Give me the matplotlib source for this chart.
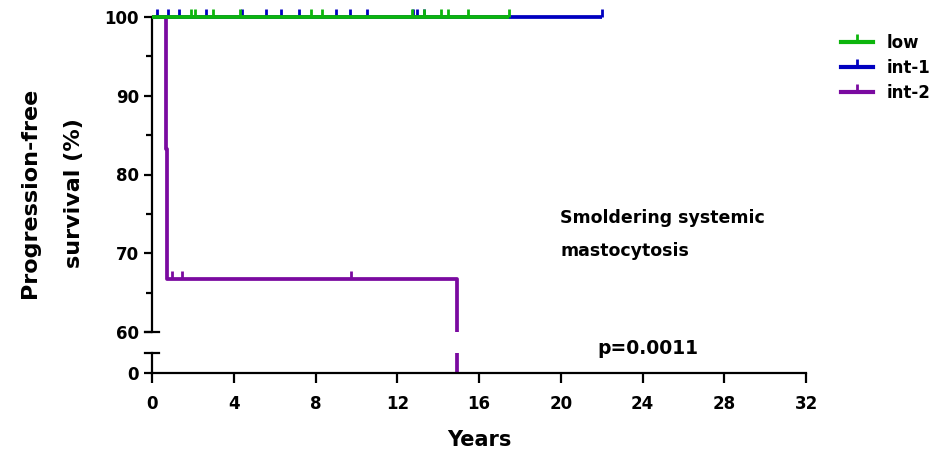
import matplotlib
matplotlib.use('Agg')
import matplotlib.pyplot as plt
import numpy as np
from matplotlib.lines import Line2D

plt.rcParams['font.family'] = ['DejaVu Sans']
plt.rcParams['font.weight'] = 'bold'

# --- data (years, % progression-free) ---
low_t = [0, 17.48]
low_s = [100, 100]
low_cens = [1.89, 2.10, 2.97, 4.33, 7.78, 8.33, 12.74, 13.31, 14.14, 14.48, 15.47, 17.48]

int1_t = [0, 22.0]
int1_s = [100, 100]
int1_cens = [0.23, 0.80, 1.32, 2.64, 4.39, 5.56, 6.29, 7.21, 8.99, 9.71, 10.52,
             12.77, 12.98, 13.31, 22.0]

int2_t = [0, 0.68, 0.71, 14.93]
int2_s = [100, 83.3, 66.7, 0]
int2_cens = [0.98, 1.48, 9.74]

groups = ['low', 'int-1', 'int-2']
colors = ['#0cb50c', '#0000c0', '#7a0aa0']

xticks = [0, 4, 8, 12, 16, 20, 24, 28, 32]
yticks_top = [60, 70, 80, 90, 100]

W, H = 939, 451
fig = plt.figure(figsize=(W / 100, H / 100), dpi=100)

# upper part of the broken axis (60-100) and lower part (0)
y100, y60, y0, ybrk = 17, 332, 373, 353
ppu = (y60 - y100) / 40.0
x0, x32 = 152, 806
ax = fig.add_axes([x0 / W, (H - y60) / H, (x32 - x0) / W, (y60 - y100 + 12) / H])
ax.set_ylim(60, 100 + 12 / ppu)
axb = fig.add_axes([x0 / W, (H - y0) / H, (x32 - x0) / W, (y0 - ybrk) / H])
axb.set_ylim(0, (y0 - ybrk) / ppu)

series = [(low_t, low_s, low_cens), (int1_t, int1_s, int1_cens), (int2_t, int2_s, int2_cens)]
zord = [4, 3, 2]
for (t, s, c), col, z in zip(series, colors, zord):
    t = np.array(t)
    s = np.array(s)
    idx = np.searchsorted(t, c, side='right') - 1
    cy = s[idx]
    for a in (ax, axb):
        a.step(t, s, where='post', color=col, lw=2.7, zorder=z, solid_capstyle='butt')
        a.plot(c, cy, linestyle='none', marker=2, markersize=6, markeredgewidth=2,
               color=col, zorder=z)

for a in (ax, axb):
    a.set_xlim(0, 32)
    for sp in ('top', 'right'):
        a.spines[sp].set_visible(False)
    a.spines['left'].set_linewidth(1.6)
    a.tick_params(width=1.6, length=6, labelsize=12)

ax.spines['bottom'].set_visible(False)
ax.spines['left'].set_bounds(60, 100)
ax.set_xticks([])
ax.set_yticks(yticks_top)
ax.set_yticks([65, 75, 85, 95], minor=True)
ax.tick_params(axis='y', which='minor', width=1.6, length=4)

axb.spines['bottom'].set_linewidth(1.6)
axb.set_yticks([0])
axb.set_xticks(xticks)
axb.tick_params(axis='x', length=7, pad=9)

# break caps
for a, yy in ((ax, 60), (axb, (y0 - ybrk) / ppu)):
    a.plot([-0.35, 0.35], [yy, yy], color='black', lw=1.6, clip_on=False, zorder=6)

for lbl in ax.get_yticklabels() + axb.get_yticklabels() + axb.get_xticklabels():
    lbl.set_fontweight('bold')

fig.text(30 / W, 1 - 193 / H, 'Progression-free', rotation=90,
         ha='center', va='center', fontsize=16, fontweight='bold')
fig.text(74 / W, 1 - 193 / H, 'survival (%)', rotation=90,
         ha='center', va='center', fontsize=16, fontweight='bold')
fig.text(479 / W, 1 - 440 / H, 'Years', ha='center', va='center', fontsize=15,
         fontweight='bold')

fig.text(560 / W, 1 - 218 / H, 'Smoldering systemic', ha='left', va='center',
         fontsize=12.5, fontweight='bold')
fig.text(560 / W, 1 - 251 / H, 'mastocytosis', ha='left', va='center',
         fontsize=12.5, fontweight='bold')
fig.text(597 / W, 1 - 348 / H, 'p=0.0011', ha='left', va='center',
         fontsize=13.5, fontweight='bold')

handles = [Line2D([0], [0], color=c, lw=3, marker=2, markersize=6, markeredgewidth=2)
           for c in colors]
fig.legend(handles, groups, loc='upper left', bbox_to_anchor=(833 / W, 1 - 26 / H),
           frameon=False, handlelength=1.9, labelspacing=0.4,
           handletextpad=0.8, borderpad=0, prop={'weight': 'bold', 'size': 12})

fig.savefig('out.png', dpi=100)
